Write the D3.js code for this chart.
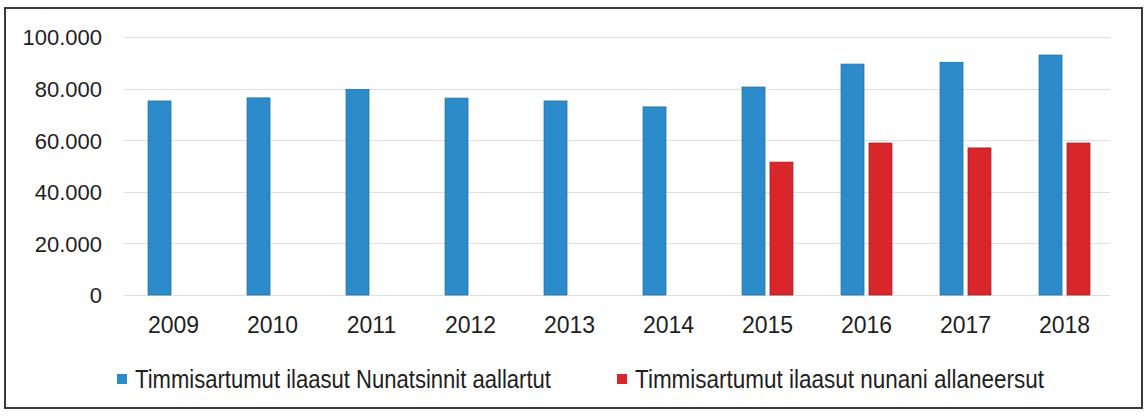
<!DOCTYPE html>
<html>
<head>
<meta charset="utf-8">
<script src="https://cdn.jsdelivr.net/npm/d3@7"></script>
<style>
  html, body { margin: 0; padding: 0; background: #fff; }
  svg text { font-family: "Liberation Sans", Arial, sans-serif; fill: #1e1e1e; }
</style>
</head>
<body>
<svg id="chart" width="1144" height="417"></svg>
<script>
const years = ['2009', '2010', '2011', '2012', '2013', '2014', '2015', '2016', '2017', '2018'];
const seriesNames = [
  'Timmisartumut ilaasut Nunatsinnit aallartut',
  'Timmisartumut ilaasut nunani allaneersut'
];
const departing = [75200, 76400, 79700, 76300, 75200, 72900, 80600, 89500, 90200, 93000];
const arriving = [null, null, null, null, null, null, 51500, 58900, 57000, 58900];
const yTicks = [0, 20000, 40000, 60000, 80000, 100000];
const colors = ['#2c8bcb', '#d8262b'];
const strokes = ['#23709f', '#a81c20'];

const svg = d3.select('#chart');

const locale = d3.formatLocale({ decimal: ',', thousands: '.', grouping: [3], currency: ['', ''] });
const fmt = locale.format(',');

const margin = { left: 124, right: 30, top: 37, bottom: 122 };
const W = 1144, H = 417;

const x0 = d3.scaleBand()
  .domain(years)
  .range([margin.left, W - margin.right])
  .padding(0);

const x1 = d3.scaleBand()
  .domain([0, 1])
  .range([0, x0.bandwidth()])
  .paddingInner(0.18)
  .paddingOuter(0.86);

const y = d3.scaleLinear()
  .domain([0, 100000])
  .range([H - margin.bottom, margin.top]);

// frame
svg.append('rect')
  .attr('x', 5).attr('y', 8)
  .attr('width', 1137).attr('height', 400)
  .attr('fill', 'none')
  .attr('stroke', '#3a3a3a')
  .attr('stroke-width', 2);

// gridlines
svg.append('g')
  .selectAll('line')
  .data(yTicks)
  .join('line')
  .attr('x1', margin.left)
  .attr('x2', W - margin.right - 4)
  .attr('y1', d => Math.round(y(d)) + 0.5)
  .attr('y2', d => Math.round(y(d)) + 0.5)
  .attr('stroke', '#dedede')
  .attr('stroke-width', 1);

// y axis labels
const yAxis = svg.append('g')
  .attr('transform', `translate(${margin.left - 22},0)`)
  .call(d3.axisLeft(y).tickValues(yTicks).tickFormat(fmt).tickSize(0).tickPadding(0));
yAxis.select('.domain').remove();
yAxis.selectAll('text')
  .attr('font-size', 22)
  .attr('dy', '0.36em')
  .style('fill', '#1e1e1e');

// x axis labels
const xAxis = svg.append('g')
  .attr('transform', `translate(0,${H - margin.bottom})`)
  .call(d3.axisBottom(x0).tickSize(0).tickPadding(30));
xAxis.select('.domain').remove();
xAxis.selectAll('text')
  .attr('font-size', 23)
  .attr('dy', '0.36em')
  .style('fill', '#1e1e1e');

// bars
const rows = years.map((yr, i) => ({ year: yr, values: [departing[i], arriving[i]] }));

svg.append('g')
  .selectAll('g')
  .data(rows)
  .join('g')
  .attr('transform', d => `translate(${x0(d.year)},0)`)
  .selectAll('rect')
  .data(d => d.values.map((v, s) => ({ v, s })).filter(e => e.v != null))
  .join('rect')
  .attr('x', d => x1(d.s))
  .attr('width', x1.bandwidth())
  .attr('y', d => y(d.v))
  .attr('height', d => y(0) - y(d.v))
  .attr('fill', d => colors[d.s])
  .attr('stroke', d => strokes[d.s])
  .attr('stroke-width', 0.8);

// legend
const legendX = [117, 617];
const legendW = [416, 409];
const legend = svg.append('g')
  .selectAll('g')
  .data(seriesNames)
  .join('g')
  .attr('transform', (d, i) => `translate(${legendX[i]},379)`);

legend.append('rect')
  .attr('x', 0).attr('y', -5)
  .attr('width', 10).attr('height', 10)
  .attr('fill', (d, i) => colors[i]);

legend.append('text')
  .attr('x', 18)
  .attr('dy', '0.36em')
  .attr('font-size', 25)
  .attr('textLength', (d, i) => legendW[i])
  .attr('lengthAdjust', 'spacingAndGlyphs')
  .text(d => d);
</script>
</body>
</html>
